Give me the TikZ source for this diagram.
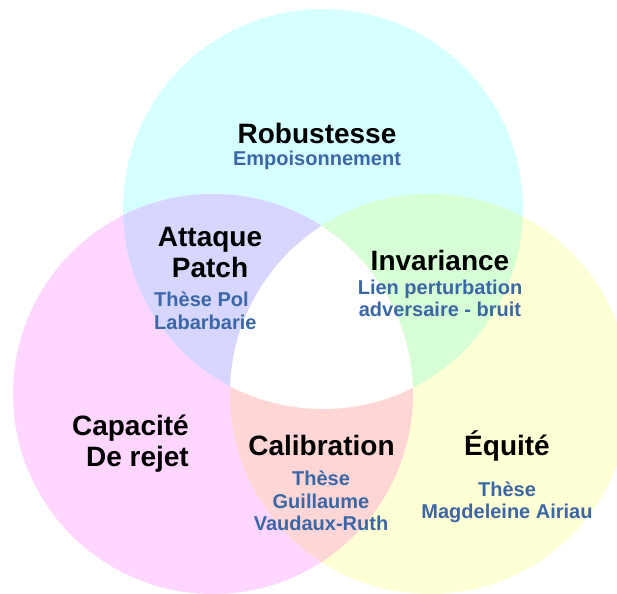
\documentclass[tikz,border=0pt]{standalone}
\usepackage{fontspec}
\setmainfont{Liberation Sans}
\usepackage{tikz}
\definecolor{cyanSet}{RGB}{214,255,255}
\definecolor{pinkSet}{RGB}{255,214,255}
\definecolor{yellowSet}{RGB}{255,255,214}
\definecolor{lavenderSet}{RGB}{214,214,255}
\definecolor{greenSet}{RGB}{214,255,214}
\definecolor{redSet}{RGB}{255,214,214}
\definecolor{noteBlue}{RGB}{59,103,166}

\begin{document}
\begin{tikzpicture}[
  x=1pt, y=-1pt,
  title/.style={font=\bfseries\fontsize{28}{31}\selectfont, inner sep=0pt, align=center},
  note/.style={font=\bfseries\fontsize{20}{22.5}\selectfont, text=noteBlue, inner sep=0pt, align=center}
]
\useasboundingbox (0,0) rectangle (617,593);
\coordinate (cTop) at (323,209);
\coordinate (cLeft) at (213,394);
\coordinate (cRight) at (430,394);
\def\setRadius{200pt}
\fill[cyanSet] (cTop) circle[radius=\setRadius];
\fill[pinkSet] (cLeft) circle[radius=\setRadius];
\fill[yellowSet] (cRight) circle[radius=\setRadius];
\begin{scope}
  \clip (cTop) circle[radius=\setRadius];
  \fill[lavenderSet] (cLeft) circle[radius=\setRadius];
  \fill[greenSet] (cRight) circle[radius=\setRadius];
\end{scope}
\begin{scope}
  \clip (cLeft) circle[radius=\setRadius];
  \fill[redSet] (cRight) circle[radius=\setRadius];
  \clip (cTop) circle[radius=\setRadius];
  \fill[white] (cRight) circle[radius=\setRadius];
\end{scope}

% base anchor of a multi-line node = baseline of its last line
\node[title, anchor=base] (robust) at (317,144) {Robustesse};
\node[note, anchor=base] (robustNote) at (317,165.7) {Empoisonnement};
\node[title, anchor=base] (attaque) at (210,277.5) {Attaque\\Patch};
\node[note, anchor=base west, align=left] (attaqueNote) at (154,329.2) {Thèse Pol\\Labarbarie};
\node[title, anchor=base] (invar) at (440,270) {Invariance};
\node[note, anchor=base] (invarNote) at (440,316.5) {Lien perturbation\\adversaire - bruit};
\node[title, anchor=base east, align=right] (capa) at (189,466) {Capacité\\De rejet};
\node[title, anchor=base] (calib) at (321.5,455) {Calibration};
\node[note, anchor=base] (calibNote) at (321,530.5) {Thèse\\Guillaume\\Vaudaux-Ruth};
\node[title, anchor=base] (equite) at (507,455) {Équité};
\node[note, anchor=base] (equiteNote) at (507,518.5) {Thèse\\Magdeleine Airiau};
\end{tikzpicture}
\end{document}
